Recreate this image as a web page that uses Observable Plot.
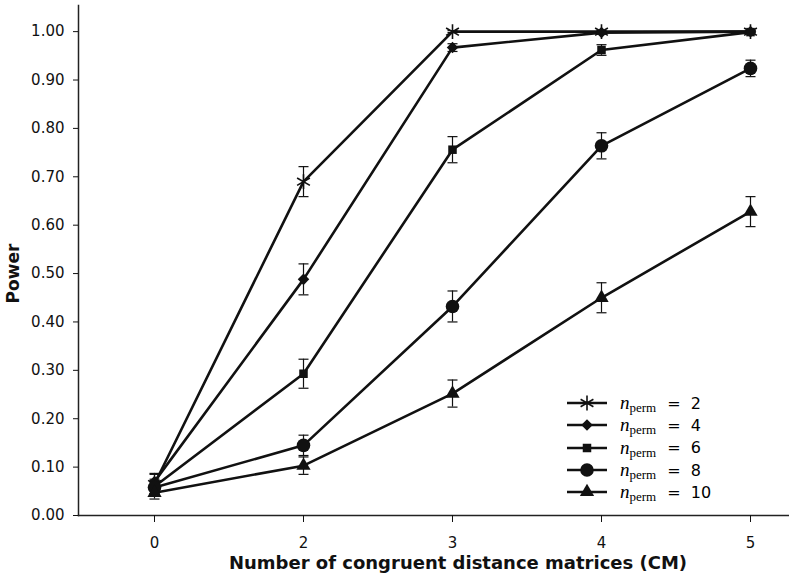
<!DOCTYPE html>
<html>
<head>
<meta charset="utf-8">
<script src="https://cdn.jsdelivr.net/npm/d3@7"></script>
<script src="https://cdn.jsdelivr.net/npm/@observablehq/plot@0.6"></script>
<style>
  html, body { margin: 0; padding: 0; background: #fff; }
  #wrap { position: relative; width: 789px; height: 575px; font-family: "DejaVu Sans", sans-serif; }
  #legend { position: absolute; left: 566px; top: 392px; }
  .row { display: flex; align-items: center; height: 22.3px; }
  .row svg { display: block; }
  .nm { font-family: "Liberation Serif", serif; font-style: italic; font-size: 19px; margin-left: 12px; }
  .sub { font-family: "Liberation Serif", serif; font-size: 13px; position: relative; top: 5px; }
  .eq { font-family: "DejaVu Sans", sans-serif; font-size: 16px; margin-left: 11px; white-space: pre; }
</style>
</head>
<body>
<div id="wrap"><div id="legend"></div></div>
<script>
// ---- data ----
const cms = [0, 2, 3, 4, 5];
const perms = [2, 4, 6, 8, 10];
const power2  = [0.065, 0.690, 1.000, 1.000, 1.000];
const err2    = [0.020, 0.031, 0.002, 0.002, 0.002];
const power4  = [0.070, 0.488, 0.967, 0.998, 1.000];
const err4    = [0.017, 0.032, 0.008, 0.003, 0.002];
const power6  = [0.060, 0.293, 0.756, 0.962, 0.999];
const err6    = [0.015, 0.030, 0.027, 0.011, 0.003];
const power8  = [0.058, 0.145, 0.432, 0.764, 0.924];
const err8    = [0.014, 0.021, 0.032, 0.027, 0.017];
const power10 = [0.047, 0.103, 0.252, 0.450, 0.628];
const err10   = [0.013, 0.018, 0.028, 0.031, 0.031];
const yTicks = [0, 0.1, 0.2, 0.3, 0.4, 0.5, 0.6, 0.7, 0.8, 0.9, 1.0];

const seriesPower = [power2, power4, power6, power8, power10];
const seriesErr = [err2, err4, err6, err8, err10];
const symbols = ["asterisk", "diamond2", "square", "circle", "triangle"];
const d3symbols = [d3.symbolAsterisk, d3.symbolDiamond2, d3.symbolSquare, d3.symbolCircle, d3.symbolTriangle];
const radii = [7, 5.2, 4.8, 6.8, 5.3];

const rows = [];
perms.forEach((p, i) => {
  cms.forEach((c, j) => {
    rows.push({perm: p, cm: c, power: seriesPower[i][j], err: seriesErr[i][j]});
  });
});

const cap = {
  draw(ctx, size) {
    const w = Math.sqrt(size / Math.PI);
    ctx.moveTo(-w, 0);
    ctx.lineTo(w, 0);
  }
};

const markerMarks = perms.map((p, i) => Plot.dot(rows.filter(d => d.perm === p), {
  x: "cm", y: "power", symbol: symbols[i], r: radii[i],
  fill: i === 0 ? "none" : "#111", stroke: i === 0 ? "#111" : "none", strokeWidth: 1.6
}));

const chart = Plot.plot({
  width: 789,
  height: 575,
  marginLeft: 78,
  marginRight: 0,
  marginTop: 5,
  marginBottom: 60,
  style: {fontFamily: "DejaVu Sans", fontSize: "15px", color: "#111"},
  x: {type: "point", domain: cms, range: [153, 750], padding: 0},
  y: {domain: [0, 1.054]},
  marks: [
    Plot.frame({anchor: "left", stroke: "#222", strokeWidth: 1.5}),
    Plot.frame({anchor: "bottom", stroke: "#222", strokeWidth: 1.5}),
    Plot.axisY({ticks: yTicks, tickFormat: d3.format(".2f"), tickSize: 5, tickPadding: 9, label: null, fontSize: 15}),
    Plot.axisX({tickSize: 7, tickPadding: 15, label: null, fontSize: 15}),
    Plot.text(["Power"], {frameAnchor: "left", textAnchor: "middle", dx: -65, dy: 13, rotate: -90, fontWeight: "bold", fontSize: 17}),
    Plot.text(["Number of congruent distance matrices (CM)"], {frameAnchor: "bottom", dx: 24, dy: 53, fontWeight: "bold", fontSize: 18}),
    Plot.ruleX(rows, {x: "cm", y1: d => d.power - d.err, y2: d => d.power + d.err, stroke: "#111", strokeWidth: 1.2}),
    Plot.dot(rows, {x: "cm", y: d => d.power - d.err, symbol: cap, r: 5, stroke: "#111", strokeWidth: 1.2, fill: "none"}),
    Plot.dot(rows, {x: "cm", y: d => d.power + d.err, symbol: cap, r: 5, stroke: "#111", strokeWidth: 1.2, fill: "none"}),
    Plot.line(rows, {x: "cm", y: "power", z: "perm", stroke: "#111", strokeWidth: 2.6}),
    ...markerMarks
  ]
});
document.getElementById("wrap").prepend(chart);

// ---- legend ----
const leg = d3.select("#legend");
perms.forEach((p, i) => {
  const row = leg.append("div").attr("class", "row");
  const svg = row.append("svg").attr("width", 42).attr("height", 18);
  svg.append("line").attr("x1", 1).attr("x2", 41).attr("y1", 9).attr("y2", 9).attr("stroke", "#111").attr("stroke-width", 2.6);
  const isAst = i === 0;
  svg.append("path")
    .attr("transform", "translate(21,9)")
    .attr("d", d3.symbol(d3symbols[i], Math.PI * radii[i] * radii[i])())
    .attr("fill", isAst ? "none" : "#111")
    .attr("stroke", isAst ? "#111" : "none")
    .attr("stroke-width", 1.6);
  row.append("span").attr("class", "nm").text("n");
  row.append("span").attr("class", "sub").text("perm");
  row.append("span").attr("class", "eq").text("=  " + p);
});
</script>
</body>
</html>
